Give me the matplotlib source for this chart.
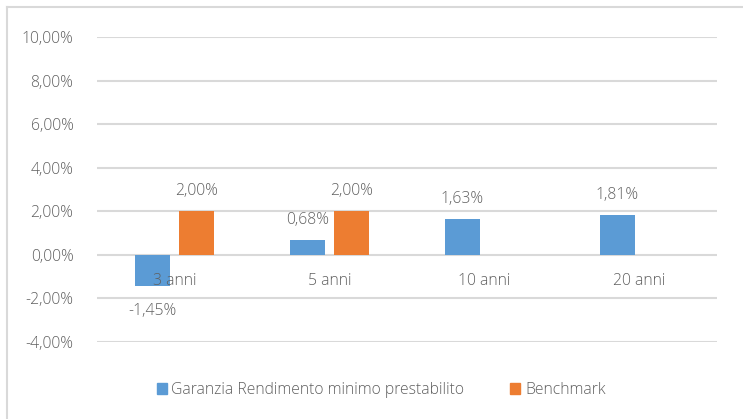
import matplotlib
matplotlib.use("Agg")
import matplotlib.pyplot as plt
from matplotlib.lines import Line2D
from matplotlib.patches import Patch
import numpy as np

plt.rcParams['font.family'] = ['Open Sans', 'DejaVu Sans']

categories = ["3 anni", "5 anni", "10 anni", "20 anni"]
garanzia = [-1.45, 0.68, 1.63, 1.81]
benchmark = [2.00, 2.00, None, None]
series_names = ["Garanzia Rendimento minimo prestabilito", "Benchmark"]
yticks = [-4, -2, 0, 2, 4, 6, 8, 10]

BLUE = "#5B9BD5"
ORANGE = "#ED7D31"
GRID = "#D9D9D9"
TXT = "#606060"
FS = 11.3

W, H = 743, 419
fig = plt.figure(figsize=(W / 100, H / 100), dpi=100)
ax = fig.add_axes([97 / W, 1 - 342 / H, (717 - 97) / W, (342 - 37) / H])

x = np.arange(len(categories))
bw = 0.226
off = 0.142

def fmt(v):
    return f"{v:.2f}".replace(".", ",") + "%"

for i, v in enumerate(garanzia):
    if v is None:
        continue
    ax.bar(x[i] - off, v, width=bw, color=BLUE, zorder=3)
    dy = 20 if v >= 0 else -25
    ax.annotate(fmt(v), (x[i] - off, v), xytext=(0, dy), textcoords='offset pixels',
                ha='center', va='center', fontsize=FS, color=TXT, fontweight='light')
for i, v in enumerate(benchmark):
    if v is None:
        continue
    ax.bar(x[i] + off, v, width=bw, color=ORANGE, zorder=3)
    dy = 20 if v >= 0 else -25
    ax.annotate(fmt(v), (x[i] + off, v), xytext=(0, dy), textcoords='offset pixels',
                ha='center', va='center', fontsize=FS, color=TXT, fontweight='light')

ax.set_xlim(-0.5, len(categories) - 0.5)
ax.set_ylim(min(yticks), max(yticks))
ax.set_yticks(yticks)
ax.set_yticklabels([fmt(t) for t in yticks], fontsize=FS, color=TXT, fontweight='light')
ax.tick_params(axis='y', length=0, pad=17)
ax.set_xticks([])
ax.grid(axis='y', color=GRID, linewidth=1.5, zorder=0)
for s in ax.spines.values():
    s.set_visible(False)

for i, c in enumerate(categories):
    ax.annotate(c, (x[i], 0), xytext=(0, -26), textcoords='offset pixels',
                ha='center', va='center', fontsize=FS, color=TXT, zorder=4, fontweight='light')

handles = [Patch(color=BLUE, label=series_names[0]), Patch(color=ORANGE, label=series_names[1])]
leg = fig.legend(handles=handles, loc='center', bbox_to_anchor=(381 / W, 1 - 390 / H), ncol=2,
                 frameon=False, handlelength=0.65, handleheight=0.65,
                 handletextpad=0.3, columnspacing=2.9,
                 prop={'size': FS, 'weight': 'light'})
for t in leg.get_texts():
    t.set_color(TXT)

fig.add_artist(Line2D([7 / W, 7 / W], [0, 1 - 7 / H], color=GRID, linewidth=1.5, transform=fig.transFigure))
fig.add_artist(Line2D([7 / W, 1], [1 - 7 / H, 1 - 7 / H], color=GRID, linewidth=1.5, transform=fig.transFigure))

fig.savefig("out.png", dpi=100)
